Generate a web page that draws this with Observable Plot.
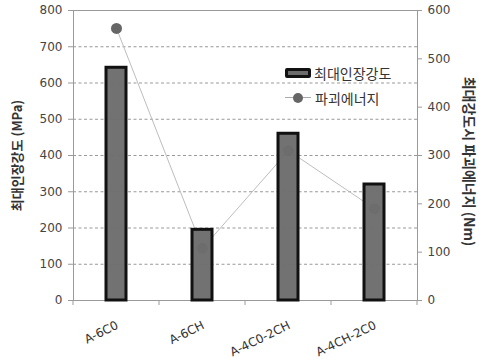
<!DOCTYPE html>
<html>
<head>
<meta charset="utf-8">
<script src="https://cdn.jsdelivr.net/npm/d3@7"></script>
<script src="https://cdn.jsdelivr.net/npm/@observablehq/plot@0.6"></script>
<style>
  html, body { margin: 0; padding: 0; background: #fff; }
  #chart { position: relative; width: 484px; height: 360px; }
  .legend { position: absolute; left: 285px; top: 60px; font-family: "Noto Sans CJK KR", sans-serif; font-size: 14px; color: #333; }
  .legend .row { display: flex; align-items: center; height: 25px; }
  .legend .swatch { width: 20px; height: 4px; background: #6b6b6b; border: 3px solid #111; border-radius: 2px; margin-right: 3px; }
  .legend .lineKey { position: relative; width: 26px; height: 10px; margin-right: 4px; }
  .legend .lineKey::before { content: ""; position: absolute; left: 0; right: 0; top: 4.5px; border-top: 1px solid #aaa; }
  .legend .lineKey::after { content: ""; position: absolute; left: 8px; top: 0; width: 10px; height: 10px; border-radius: 50%; background: #666; }
</style>
</head>
<body>
<div id="chart"></div>
<script>
// Specimen groups
const specimens = ["A-6C0", "A-6CH", "A-4C0-2CH", "A-4CH-2C0"];
// Maximum tensile strength (MPa), left axis
const strength = [642, 195, 460, 320];
// Fracture energy at maximum strength (Nm), right axis
const energy = [563, 108, 310, 190];
// Axis ticks
const strengthTicks = [0, 100, 200, 300, 400, 500, 600, 700, 800];
const energyTicks = [0, 100, 200, 300, 400, 500, 600];

// Energy is drawn on the strength scale: 600 Nm ↔ 800 MPa
const k = 800 / 600;

const rows = specimens.map((s, i) => ({ specimen: s, strength: strength[i], energy: energy[i] }));

const numFont = "DejaVu Sans, sans-serif";
const krFont = "Noto Sans CJK KR, sans-serif";

const plot = Plot.plot({
  width: 484,
  height: 360,
  marginLeft: 73,
  marginRight: 67,
  marginTop: 10,
  marginBottom: 60,
  style: { fontFamily: numFont, fontSize: "12px", color: "#444", background: "#fff" },
  x: { type: "band", domain: specimens, padding: 0 },
  y: { domain: [0, 800] },
  marks: [
    Plot.gridY(strengthTicks.filter(d => d > 0 && d < 800), { stroke: "#999", strokeOpacity: 1, strokeDasharray: "3,2.5" }),
    Plot.frame({ stroke: "#9a9a9a" }),
    // left axis
    Plot.axisY(strengthTicks, { anchor: "left", tickSize: 5, stroke: "#9a9a9a", tickPadding: 6, fill: "#444", label: null }),
    Plot.text(["최대인장강도 (MPa)"], { frameAnchor: "left", textAnchor: "middle", dx: -56, rotate: -90, fontFamily: krFont, fontWeight: "bold", fontSize: 13, fill: "#333" }),
    // right axis, energy values
    Plot.axisY(energyTicks.map(v => v * k), { anchor: "right", tickSize: 4, stroke: "#9a9a9a", tickPadding: 6, fill: "#444", tickFormat: d => Math.round(d / k), label: null }),
    Plot.text(["최대강도시 파괴에너지 (Nm)"], { frameAnchor: "right", textAnchor: "middle", dx: 51, dy: 6, rotate: 90, fontFamily: krFont, fontWeight: "bold", fontSize: 14, fill: "#333", letterSpacing: "1.6px" }),
    // bottom axis
    Plot.axisX({ tickSize: 0, tickRotate: -26, tickPadding: 24, dx: 1, fill: "#333", fontSize: 12, label: null }),
    // fracture energy line + points
    Plot.line(rows, { x: "specimen", y: d => d.energy * k, stroke: "#bdbdbd", strokeWidth: 1 }),
    Plot.dot(rows, { x: "specimen", y: d => d.energy * k, r: 5.5, fill: "#666", stroke: "none" }),
    // maximum tensile strength bars
    Plot.barY(rows, { x: "specimen", y: "strength", insetLeft: 33, insetRight: 33, fill: "#6d6d6d", fillOpacity: 0.97, stroke: "#111", strokeWidth: 3 })
  ]
});

const chart = document.getElementById("chart");
chart.appendChild(plot);

// category boundary ticks under the baseline
const xScale = plot.scale("x");
const y0 = plot.scale("y").apply(0);
const bounds = specimens.map(s => xScale.apply(s)).concat(xScale.apply(specimens[specimens.length - 1]) + xScale.bandwidth);
d3.select(plot).append("g")
  .attr("stroke", "#9a9a9a")
  .selectAll("line").data(bounds).join("line")
  .attr("x1", d => d).attr("x2", d => d).attr("y1", y0).attr("y2", y0 + 5);

const legend = document.createElement("div");
legend.className = "legend";
legend.innerHTML = `
  <div class="row"><span class="swatch"></span><span>최대인장강도</span></div>
  <div class="row"><span class="lineKey"></span><span>파괴에너지</span></div>`;
chart.appendChild(legend);
</script>
</body>
</html>
